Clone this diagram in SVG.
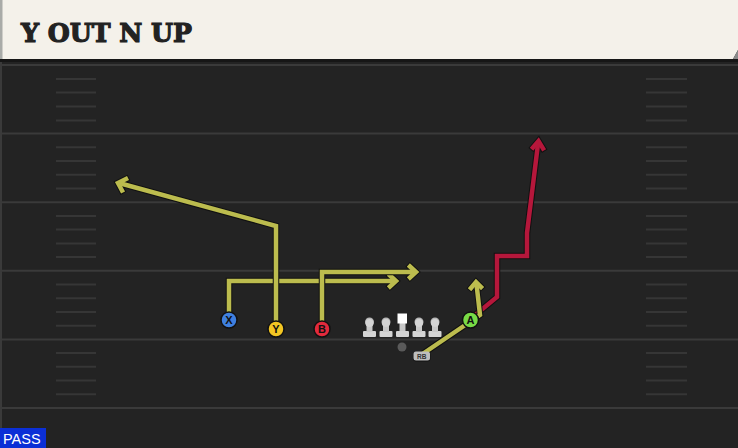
<svg xmlns="http://www.w3.org/2000/svg" width="738" height="448" viewBox="0 0 738 448">
<style>
.yl{stroke:#3a3a3a;stroke-width:2;fill:none}
.hs{stroke:#363636;stroke-width:2;fill:none}
.ol{stroke:#111;stroke-width:6.5;fill:none;stroke-linejoin:miter;stroke-linecap:butt}
.yr{stroke:#bcbc4e;stroke-width:4.5;fill:none;stroke-linejoin:miter;stroke-linecap:butt}
.rr{stroke:#b5173b;stroke-width:4.5;fill:none;stroke-linejoin:miter;stroke-linecap:butt}
.ah{stroke-linecap:square}
.pc{stroke:#111;stroke-width:1.5}
.pl{font-family:"Liberation Sans",Arial,sans-serif;font-weight:bold;font-size:11px;fill:#111;text-anchor:middle}
</style>
<defs>
<g id="lineman">
<rect x="-6.5" y="9" width="13" height="6" rx="1" fill="#d4d4d4"/>
<rect x="-3" y="3" width="6" height="7" fill="#c8c8c8"/>
<circle cx="0" cy="0" r="4.5" fill="#b8b8b8"/>
<circle cx="0" cy="1" r="4" fill="#d4d4d4"/>
</g>
</defs>
<rect x="0" y="0" width="738" height="448" fill="#232323"/>
<rect x="0" y="60" width="2" height="388" fill="#3a3a3a"/>
<g id="field">
<line class="yl" x1="0" y1="65" x2="738" y2="65" stroke="#2e2e2e"/>
<line class="yl" x1="0" y1="133.6" x2="738" y2="133.6"/>
<line class="yl" x1="0" y1="202.2" x2="738" y2="202.2"/>
<line class="yl" x1="0" y1="270.8" x2="738" y2="270.8"/>
<line class="yl" x1="0" y1="339.4" x2="738" y2="339.4"/>
<line class="yl" x1="0" y1="408" x2="738" y2="408"/>
<path class="hs" d="M56 79H96M56 92.4H96M56 106.5H96M56 120.5H96M56 147.3H96M56 161H96M56 174.7H96M56 188.5H96M56 215.9H96M56 229.6H96M56 243.4H96M56 257.1H96M56 284.5H96M56 298.2H96M56 312H96M56 325.7H96M56 353.1H96M56 366.8H96M56 380.6H96M56 394.3H96"/>
<path class="hs" d="M646 79H687M646 92.4H687M646 106.5H687M646 120.5H687M646 147.3H687M646 161H687M646 174.7H687M646 188.5H687M646 215.9H687M646 229.6H687M646 243.4H687M646 257.1H687M646 284.5H687M646 298.2H687M646 312H687M646 325.7H687M646 353.1H687M646 366.8H687M646 380.6H687M646 394.3H687"/>
</g>
<g id="header">
<rect x="0" y="59" width="738" height="3" fill="#161616"/>
<polygon points="0,0 738,0 738,50 733,59 0,59" fill="#f4f1ea"/>
<polygon points="738,50 733,59 738,59" fill="#8a8a8a"/>
<rect x="0" y="0" width="2.5" height="59" fill="#a9aba8"/>
<text x="21" y="42" font-family="'DejaVu Serif',serif" font-weight="bold" font-size="26" fill="#222" stroke="#222" stroke-width="1.2" textLength="171" lengthAdjust="spacingAndGlyphs">Y OUT N UP</text>
</g>
<g id="connectors">
<g id="route-X">
<path class="ol" d="M229 320V281H395"/>
<path class="ol ah" d="M390 275.5L396 281L390 286.5"/>
<path class="yr" d="M229 320V281H395"/>
<path class="yr ah" d="M390 275.5L396 281L390 286.5"/>
</g>
<g id="route-B">
<path class="ol" d="M322 329V272H415"/>
<path class="ol ah" d="M410 266.5L416 272L410 277.5"/>
<path class="yr" d="M322 329V272H415"/>
<path class="yr ah" d="M410 266.5L416 272L410 277.5"/>
</g>
<g id="route-Y">
<path class="ol" d="M276 329V226L119 183"/>
<path class="ol ah" d="M126 179L118 183L122 190.5"/>
<path class="yr" d="M276 329V226L119 183"/>
<path class="yr ah" d="M126 179L118 183L122 190.5"/>
</g>
<g id="route-A-red">
<path class="ol" d="M474 316L497 297V256H527V233L538 144"/>
<path class="ol ah" d="M533 147.5L538.5 141L543 148.5"/>
<path class="rr" d="M474 316L497 297V256H527V233L538 144"/>
<path class="rr ah" d="M533 147.5L538.5 141L543 148.5"/>
</g>
<g id="route-RB">
<path class="ol" d="M421 355L480 315L476.5 284"/>
<path class="ol ah" d="M471 288L476 282L481 287"/>
<path class="yr" d="M421 355L480 315L476.5 284"/>
<path class="yr ah" d="M471 288L476 282L481 287"/>
</g>
</g>
<g id="lineman-1"><use href="#lineman" x="369.5" y="322"/></g>
<g id="lineman-2"><use href="#lineman" x="386" y="322"/></g>
<g id="center">
<rect x="396" y="331" width="13" height="6" rx="1" fill="#d4d4d4"/>
<rect x="399.5" y="323" width="6" height="8" fill="#c8c8c8"/>
<rect x="397.5" y="313.5" width="9.5" height="10" fill="#ffffff"/>
</g>
<g id="lineman-4"><use href="#lineman" x="419" y="322"/></g>
<g id="lineman-5"><use href="#lineman" x="435" y="322"/></g>
<g id="QB"><circle cx="402" cy="347" r="4.5" fill="#5a5a5a"/></g>
<g id="RB">
<rect x="413" y="352" width="17.5" height="9.5" rx="3" fill="#111"/>
<rect x="413.5" y="351.5" width="16.5" height="9" rx="2.5" fill="#bdbdbd"/>
<text x="421.8" y="359" font-family="'Liberation Sans',Arial,sans-serif" font-weight="bold" font-size="6.5" fill="#333" text-anchor="middle">RB</text>
</g>
<g id="X"><circle class="pc" cx="229" cy="320" r="8" fill="#3f80e0"/><text class="pl" x="229" y="324">X</text></g>
<g id="Y"><circle class="pc" cx="276" cy="329" r="8" fill="#f3c623"/><text class="pl" x="276" y="333">Y</text></g>
<g id="B"><circle class="pc" cx="322" cy="329" r="8" fill="#e32a3c"/><text class="pl" x="322" y="333">B</text></g>
<g id="A"><circle class="pc" cx="470.5" cy="320" r="8" fill="#78db46"/><text class="pl" x="470.5" y="324">A</text></g>
<g id="pass-label">
<rect x="0" y="428" width="46" height="20" fill="#0b2fd6"/>
<text x="3" y="444" font-family="'Liberation Sans',Arial,sans-serif" font-size="14.5" fill="#ffffff">PASS</text>
</g>
</svg>
